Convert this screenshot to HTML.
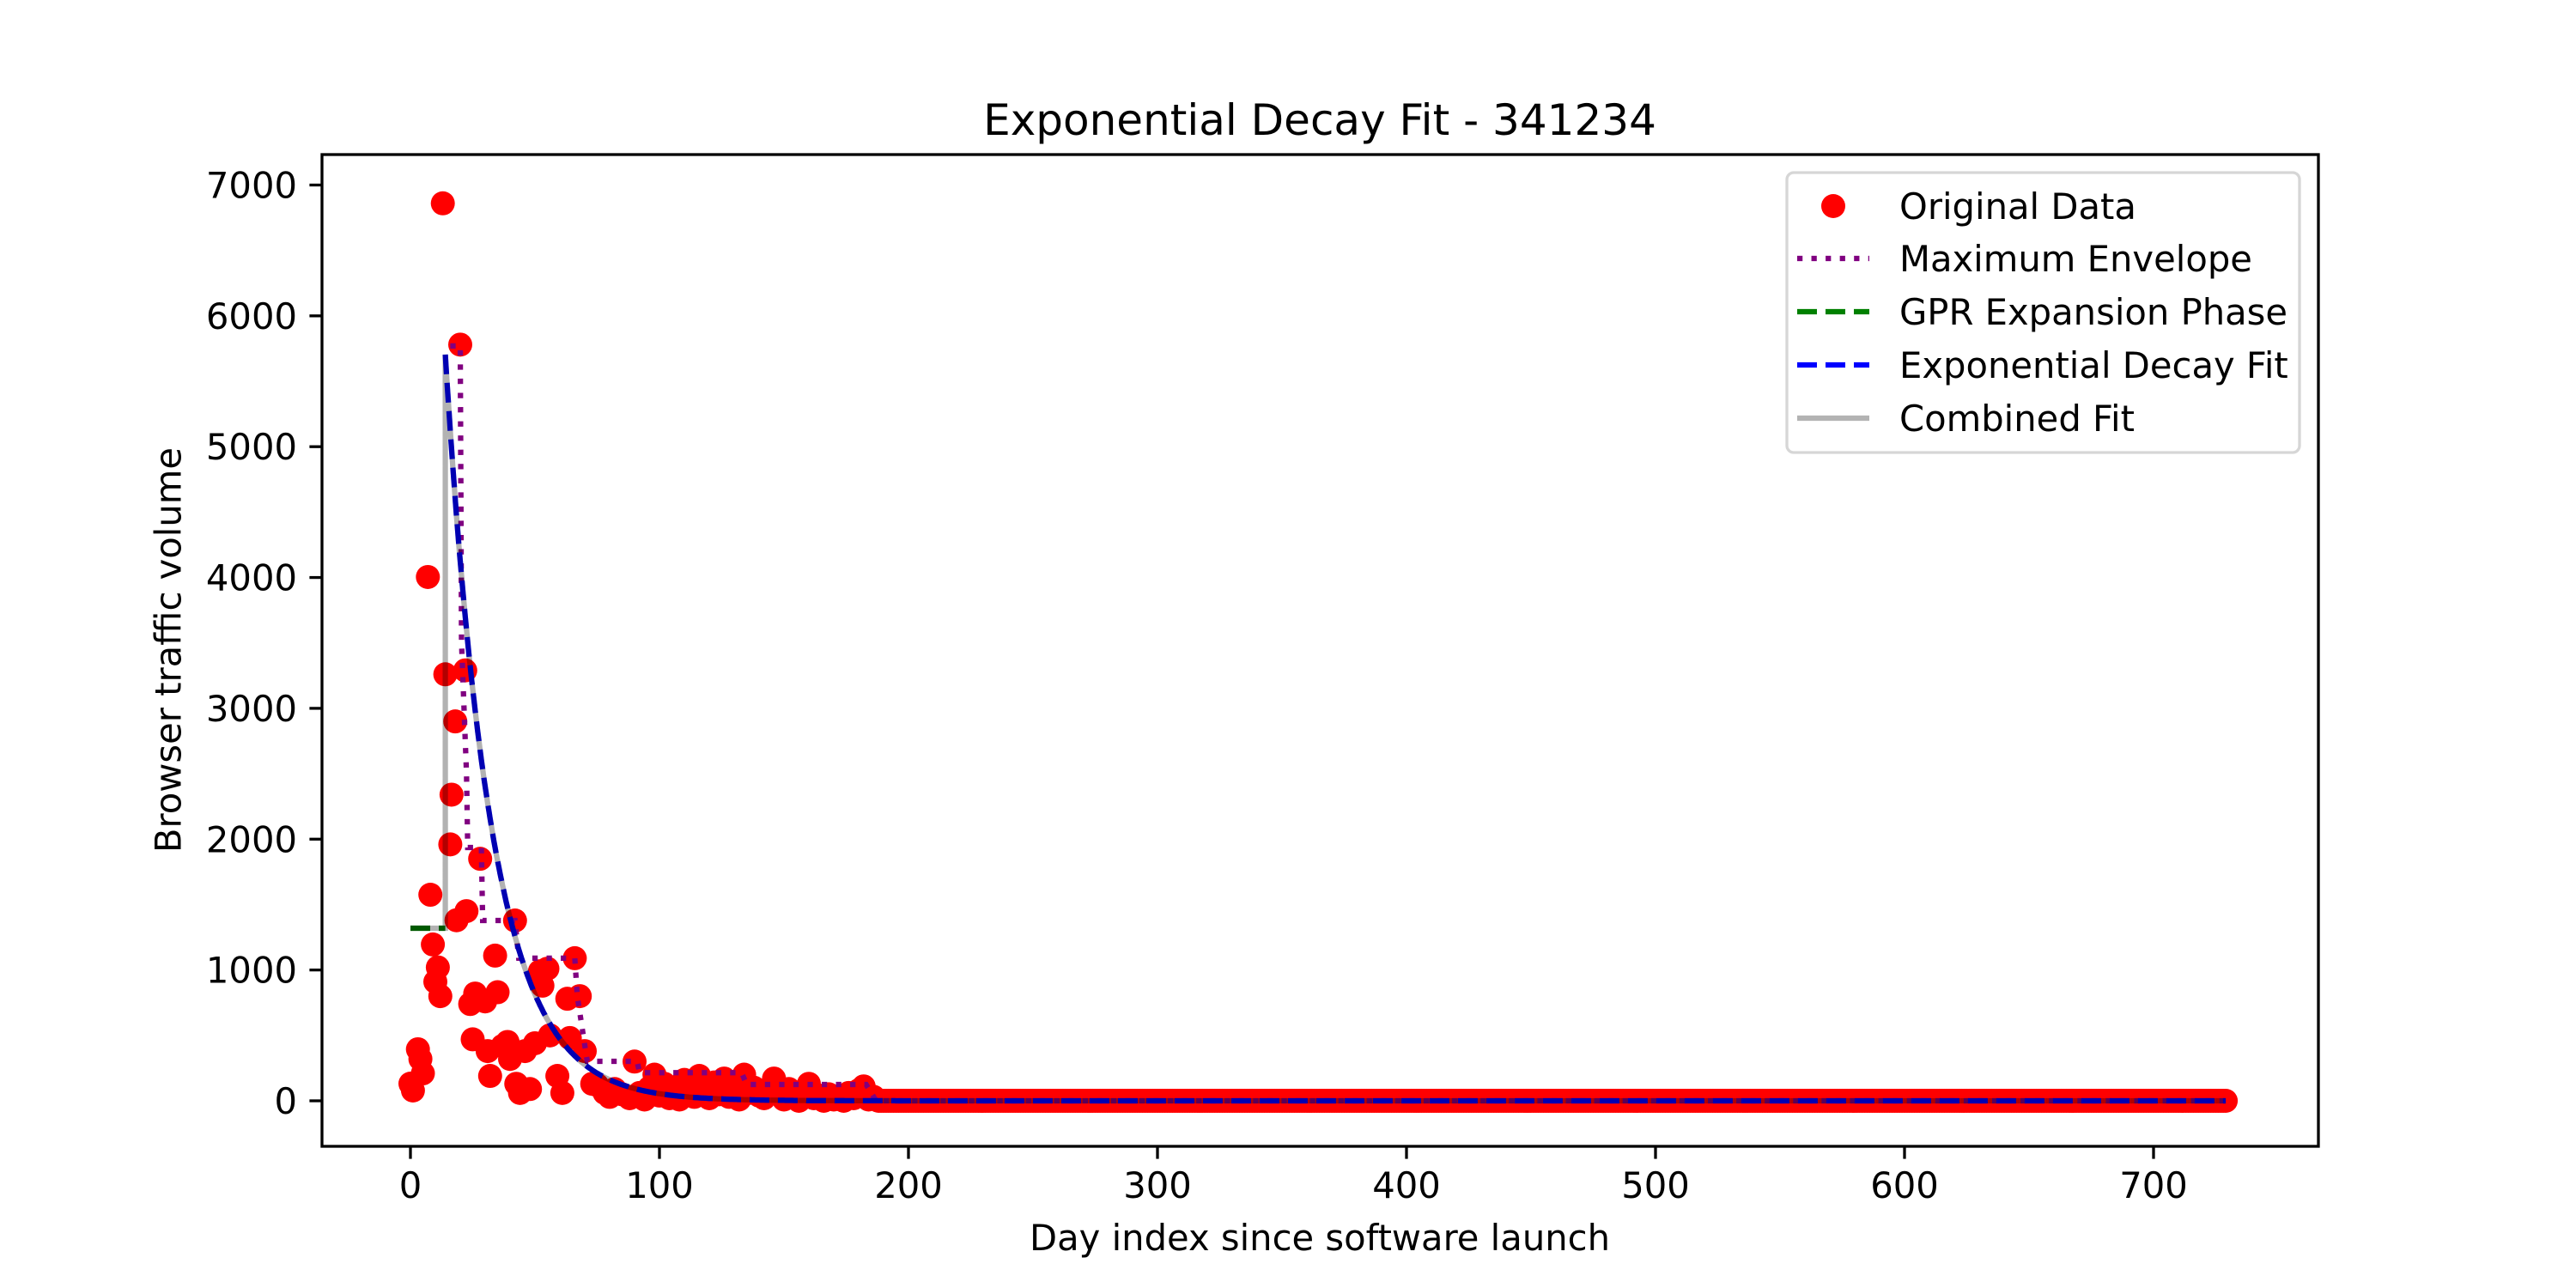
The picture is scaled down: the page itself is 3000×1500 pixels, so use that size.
<!DOCTYPE html>
<html><head><meta charset="utf-8"><style>
html,body{margin:0;padding:0;background:#fff;}
svg{display:block;font-family:"DejaVu Sans","Liberation Sans",sans-serif;}
</style></head><body>
<svg id="chart" width="3000" height="1500" viewBox="0 0 3000 1500" xmlns="http://www.w3.org/2000/svg">
<rect x="0" y="0" width="3000" height="1500" fill="#fff"/>
<text x="1537" y="157" font-size="50" text-anchor="middle">Exponential Decay Fit - 341234</text>
<g id="plot"></g>
<g id="axes"></g>
<text x="1537" y="1456" font-size="41.7" text-anchor="middle">Day index since software launch</text>
<text transform="translate(196,757) rotate(-90)" font-size="41.7" text-anchor="middle" dominant-baseline="central">Browser traffic volume</text>
<g id="legend"></g>
</svg>
<script>
// ---- data ----
const scatterDays = [0,1,3,4,5,7,8,9,10,11,12,13,14,16,16.5,18,18.5,20,22,22.5,24,25,26,28,30,31,32,34,35,37,39,40,42,42.5,44,46,48,50,52,53,55,56,59,61,63,64,66,68,70,73,
75,78,80,82,85,88,90,92,94,96,98,100,102,104,106,108,110,112,114,116,118,120,122,124,126,128,130,132,134,136,138,140,142,144,146,148,150,152,154,156,158,160,162,164,166,168,170,172,174,176,178,180,182,184,186,188];
const scatterValues = [131,79,394,320,210,4004,1575,1195,910,1020,800,6860,3260,1960,2340,2900,1380,5780,3290,1450,740,470,820,1850,760,380,190,1110,830,420,450,320,1378,130,60,380,90,440,990,880,1010,500,190,60,780,480,1090,800,380,130,
120,60,30,90,50,20,300,60,10,100,200,40,130,20,90,10,160,50,30,190,70,20,140,50,170,30,80,10,200,60,100,40,20,70,170,50,10,90,30,0,60,130,20,40,0,50,10,30,0,60,20,80,110,10,30,0];
// every day from tailStartDay to tailEndDay reads as tailValue
const tailStartDay = 189, tailEndDay = 729, tailValue = 0;
const envelopeDays = [16,20,20.5,22.5,23,28.5,29,42,43.5,66,67,71,91,92,133,135,183,187,729];
const envelopeValues = [5770,5770,3500,2500,1936,1936,1378,1378,1090,1090,800,302,302,215,215,125,125,0,0];
const gprDays = [0,14];
const gprValues = [1319,1319];
const fitStartDay = 14, fitEndDay = 729, fitAmplitude = 5704, fitTau = 18.5;
const xTickLabels = [0,100,200,300,400,500,600,700];
const yTickLabels = [0,1000,2000,3000,4000,5000,6000,7000];
const legendLabels = ["Original Data","Maximum Envelope","GPR Expansion Phase","Exponential Decay Fit","Combined Fit"];

// ---- axis functions ----
const AX = {left:375, right:2700, top:180, bottom:1335};
function xs(d){ return 478 + d*2.9; }
function ys(v){ return 1282 - v*0.15236; }

const NS = "http://www.w3.org/2000/svg";
function mk(tag, attrs, parent){ const e=document.createElementNS(NS,tag); for(const k in attrs) e.setAttribute(k,attrs[k]); parent.appendChild(e); return e; }
const plot = document.getElementById('plot');
const axes = document.getElementById('axes');
const legend = document.getElementById('legend');

const defs = mk('defs',{},plot);
const cp = mk('clipPath',{id:'clip'},defs);
mk('rect',{x:AX.left,y:AX.top,width:AX.right-AX.left,height:AX.bottom-AX.top},cp);
const g = mk('g',{'clip-path':'url(#clip)'},plot);

const sg = mk('g',{},g);


for(let i=0;i<scatterDays.length;i++){
  const c = mk('circle',{cx:xs(scatterDays[i]),cy:ys(scatterValues[i]),r:14,fill:'#ff0000'},sg);
  
  
}
for(let d=tailStartDay; d<=tailEndDay; d++){
  const c = mk('circle',{cx:xs(d),cy:ys(tailValue),r:14,fill:'#ff0000'},sg);
  
  
}
function pts(ds,vs){ return ds.map((d,i)=>xs(d).toFixed(1)+','+ys(vs[i]).toFixed(1)).join(' '); }

const env = mk('polyline',{points:pts(envelopeDays,envelopeValues),fill:'none',stroke:'#800080','stroke-width':6.25,'stroke-dasharray':'6.25 10.3'},g);


const gpr = mk('polyline',{points:pts(gprDays,gprValues),fill:'none',stroke:'#008000','stroke-width':6.25,'stroke-dasharray':'23 10'},g);


const fitDays=[], fitVals=[];
for(let d=fitStartDay; d<=fitEndDay; d+=0.5){ fitDays.push(d); fitVals.push(fitAmplitude*Math.exp(-(d-fitStartDay)/fitTau)); }
const fit = mk('polyline',{points:pts(fitDays,fitVals),fill:'none',stroke:'#0000ff','stroke-width':6.25,'stroke-dasharray':'23 10'},g);


const combD = gprDays.concat(fitDays), combV = gprValues.concat(fitVals);
const comb = mk('polyline',{points:pts(combD,combV),fill:'none',stroke:'#000','stroke-opacity':0.3,'stroke-width':6.25},g);



const sp = mk('rect',{x:AX.left,y:AX.top,width:AX.right-AX.left,height:AX.bottom-AX.top,fill:'none',stroke:'#000','stroke-width':3.3},axes);


xTickLabels.forEach(v=>{
  const x=xs(v);
  const t=mk('line',{x1:x,x2:x,y1:AX.bottom,y2:AX.bottom+14.6,stroke:'#000','stroke-width':3.3},axes);
  
  
  const l=mk('text',{x:x,y:1395,'font-size':41.7,'text-anchor':'middle'},axes);
  l.textContent=v;
  
  
});
yTickLabels.forEach(v=>{
  const y=ys(v);
  const t=mk('line',{x1:AX.left-14.6,x2:AX.left,y1:y,y2:y,stroke:'#000','stroke-width':3.3},axes);
  
  
  const l=mk('text',{x:346,y:y+15,'font-size':41.7,'text-anchor':'end'},axes);
  l.textContent=v;
  
  
});

const lb = mk('rect',{x:2081,y:201,width:597,height:326,rx:8,fill:'#fff','fill-opacity':0.8,stroke:'#d6d6d6','stroke-width':3.3},legend);


const rowsY=[240,301,363,425,487];
const styles=[null,
 {stroke:'#800080','stroke-dasharray':'6.25 10.3'},
 {stroke:'#008000','stroke-dasharray':'23 10'},
 {stroke:'#0000ff','stroke-dasharray':'23 10'},
 {stroke:'#b3b3b3'}];
legendLabels.forEach((lab,i)=>{
  const y=rowsY[i];
  const eg=mk('g',{},legend);
  
  
  if(i===0){ mk('circle',{cx:2135,cy:y,r:14,fill:'#ff0000'},eg); }
  else { const a=Object.assign({x1:2093,x2:2177,y1:y,y2:y,'stroke-width':6.25},styles[i]); mk('line',a,eg); }
  const t=mk('text',{x:2212,y:y+15,'font-size':41.7},eg);
  t.textContent=lab;
});
</script>
</body></html>
